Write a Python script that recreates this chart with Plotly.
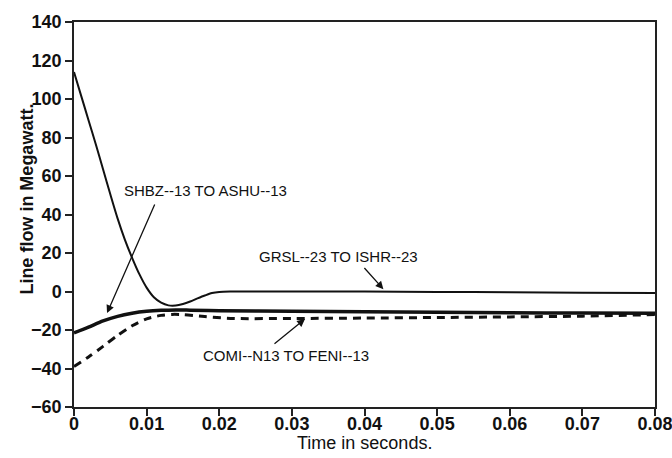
import plotly.graph_objects as go

# Time samples (s) and line flows (MW) for each transmission line
t_grsl = [0, 0.001, 0.002, 0.003, 0.004, 0.005, 0.006, 0.007, 0.008, 0.009, 0.010,
          0.011, 0.012, 0.013, 0.014, 0.015, 0.016, 0.017, 0.018, 0.019, 0.020,
          0.0215, 0.03, 0.04, 0.05, 0.06, 0.07, 0.08]
p_grsl = [114, 101.5, 89, 76.5, 63.5, 50.5, 38, 27, 17.5, 9, 2,
          -3, -5.8, -7.2, -7.3, -6.5, -5.2, -3.6, -2.1, -0.8, -0.2,
          0, 0, 0, -0.2, -0.4, -0.6, -0.8]

t_shbz = [0, 0.002, 0.004, 0.006, 0.008, 0.010, 0.012, 0.014, 0.016, 0.020,
          0.03, 0.04, 0.05, 0.06, 0.07, 0.08]
p_shbz = [-21.5, -18.5, -15.3, -12.9, -11.3, -10.3, -9.8, -9.6, -9.7, -10,
          -10.2, -10.5, -10.8, -11, -11.2, -11.3]

t_comi = [0, 0.002, 0.004, 0.006, 0.008, 0.010, 0.012, 0.0135, 0.015, 0.018,
          0.022, 0.03, 0.04, 0.05, 0.06, 0.07, 0.08]
p_comi = [-39, -34, -28.5, -22.8, -17.8, -14.2, -12.4, -11.9, -12, -13,
          -14, -14, -13.8, -13.5, -13.2, -12.8, -12]

x_ticks = [0, 0.01, 0.02, 0.03, 0.04, 0.05, 0.06, 0.07, 0.08]
x_tick_text = ["0", "0.01", "0.02", "0.03", "0.04", "0.05", "0.06", "0.07", "0.08"]
y_ticks = [-60, -40, -20, 0, 20, 40, 60, 80, 100, 120, 140]

FONT = "Liberation Sans, Arial, sans-serif"
INK = "#111111"

fig = go.Figure()
fig.add_trace(go.Scatter(x=t_grsl, y=p_grsl, mode="lines",
                         line=dict(color=INK, width=2, shape="spline", smoothing=0.8),
                         name="GRSL--23 TO ISHR--23"))
fig.add_trace(go.Scatter(x=t_shbz, y=p_shbz, mode="lines",
                         line=dict(color=INK, width=3.5, shape="spline", smoothing=0.8),
                         name="SHBZ--13 TO ASHU--13"))
fig.add_trace(go.Scatter(x=t_comi, y=p_comi, mode="lines",
                         line=dict(color=INK, width=3, dash="8px,6px", shape="spline", smoothing=0.8),
                         name="COMI--N13 TO FENI--13"))

label_font = dict(family=FONT, size=15, color=INK)
arrow = dict(showarrow=True, arrowhead=2, arrowsize=1.2, arrowwidth=1.3,
             arrowcolor=INK, axref="x", ayref="y", text="")

fig.add_annotation(x=0.0181, y=52.7, text="SHBZ--13 TO ASHU--13",
                   showarrow=False, font=label_font)
fig.add_annotation(x=0.00455, y=-11.2, ax=0.0112, ay=46, **arrow)

fig.add_annotation(x=0.0364, y=18.0, text="GRSL--23 TO ISHR--23",
                   showarrow=False, font=label_font)
fig.add_annotation(x=0.0426, y=1.2, ax=0.0398, ay=13.0, **arrow)

fig.add_annotation(x=0.0292, y=-33, text="COMI--N13 TO FENI--13",
                   showarrow=False, font=label_font)
fig.add_annotation(x=0.0318, y=-14.3, ax=0.0274, ay=-27.8, **arrow)

# Axis titles placed as paper annotations for exact positioning
fig.add_annotation(xref="paper", yref="paper", x=-0.08, y=0.54, textangle=-90,
                   text="<b>Line flow in Megawatt.</b>", showarrow=False,
                   xanchor="center", yanchor="middle",
                   font=dict(family=FONT, size=18, color=INK))
fig.add_annotation(xref="paper", yref="paper", x=0.5, y=-0.094,
                   text="Time in seconds.", showarrow=False,
                   xanchor="center", yanchor="middle",
                   font=dict(family=FONT, size=18, color=INK))

axis_common = dict(showgrid=False, zeroline=False, showline=True, linecolor="#222222",
                   linewidth=1.5, mirror=True, ticks="outside", ticklen=7, tickwidth=1.5,
                   tickcolor="#222222", automargin=False, ticklabeloverflow="allow")

fig.update_xaxes(range=[0, 0.08 + 1e-9], tickvals=x_ticks, ticktext=x_tick_text,
                 tickfont=dict(family=FONT, size=18, color=INK, weight="bold"),
                 ticklabelstandoff=-7,
                 **axis_common)
fig.update_yaxes(range=[-60, 140], tickvals=y_ticks,
                 tickfont=dict(family=FONT, size=18, color=INK, weight="bold"),
                 **axis_common)

fig.update_layout(width=672, height=458, margin=dict(l=74, r=17, t=22, b=51),
                  plot_bgcolor="white", paper_bgcolor="white", showlegend=False)

fig.write_html("out.html")
